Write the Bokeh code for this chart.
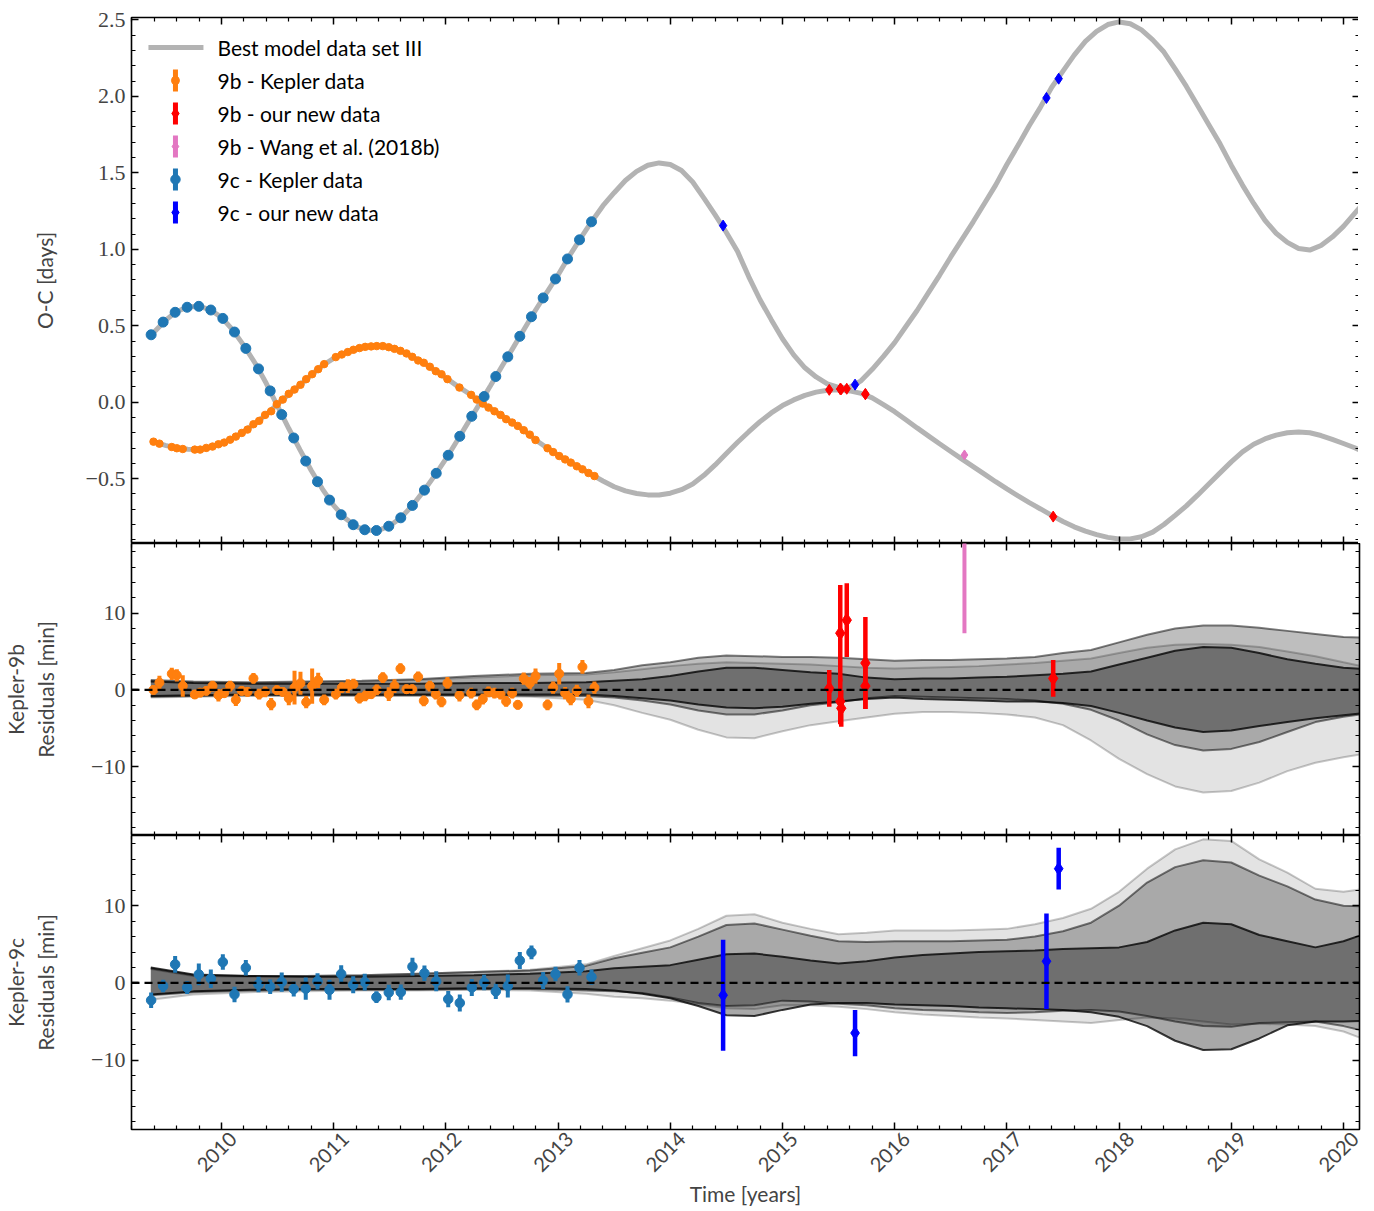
import math
import numpy as np
from bokeh.plotting import figure
from bokeh.layouts import column
from bokeh.models import Range1d, LinearAxis, FixedTicker, Span, Label, CustomJSTickFormatter
from bokeh.embed import file_html
from bokeh.resources import INLINE

SANS = "Lato"
SERIF = "Liberation Serif"

# ---------------- data ----------------
MODEL_T = [2009.37, 2009.4, 2009.5, 2009.6, 2009.7, 2009.8, 2009.9,
           2010.0, 2010.1, 2010.2, 2010.3, 2010.4, 2010.5, 2010.6, 2010.7, 2010.8, 2010.9,
           2011.0, 2011.1, 2011.2, 2011.3, 2011.4, 2011.5, 2011.6, 2011.7, 2011.8, 2011.9,
           2012.0, 2012.1, 2012.2, 2012.3, 2012.4, 2012.5, 2012.6, 2012.7, 2012.8, 2012.9,
           2013.0, 2013.1, 2013.2, 2013.3, 2013.4, 2013.5, 2013.6, 2013.7, 2013.8, 2013.9,
           2014.0, 2014.1, 2014.2, 2014.3, 2014.4, 2014.5, 2014.6, 2014.7, 2014.8, 2014.9,
           2015.0, 2015.1, 2015.2, 2015.3, 2015.4, 2015.5, 2015.6, 2015.7, 2015.8, 2015.9,
           2016.0, 2016.1, 2016.2, 2016.3, 2016.4, 2016.5, 2016.6, 2016.7, 2016.8, 2016.9,
           2017.0, 2017.1, 2017.2, 2017.3, 2017.4, 2017.5, 2017.6, 2017.7, 2017.8, 2017.9,
           2018.0, 2018.1, 2018.2, 2018.3, 2018.4, 2018.5, 2018.6, 2018.7, 2018.8, 2018.9,
           2019.0, 2019.1, 2019.2, 2019.3, 2019.4, 2019.5, 2019.6, 2019.7, 2019.8, 2019.9,
           2020.0, 2020.1, 2020.2]
MODEL_9B = [-0.252, -0.26, -0.282, -0.300, -0.308, -0.309, -0.295,
            -0.270, -0.236, -0.192, -0.138, -0.080, -0.012, 0.052, 0.112, 0.178, 0.240,
            0.287, 0.322, 0.348, 0.363, 0.367, 0.359, 0.335, 0.297, 0.259, 0.209,
            0.159, 0.107, 0.060, 0.005, -0.043, -0.089, -0.137, -0.186, -0.247, -0.298,
            -0.347, -0.389, -0.431, -0.474, -0.515, -0.553, -0.580, -0.597, -0.606, -0.607,
            -0.595, -0.572, -0.535, -0.478, -0.410, -0.335, -0.262, -0.193, -0.127, -0.070,
            -0.022, 0.015, 0.045, 0.066, 0.078, 0.082, 0.074, 0.058, 0.028, -0.016,
            -0.062, -0.115, -0.168, -0.220, -0.272, -0.322, -0.372, -0.421, -0.470, -0.520,
            -0.567, -0.613, -0.657, -0.698, -0.740, -0.780, -0.815, -0.843, -0.866, -0.884,
            -0.894, -0.894, -0.880, -0.850, -0.800, -0.740, -0.678, -0.608, -0.535, -0.462,
            -0.390, -0.325, -0.275, -0.240, -0.215, -0.200, -0.195, -0.200, -0.218, -0.243,
            -0.270, -0.298, -0.330]
MODEL_9C = [0.44, 0.46, 0.535, 0.593, 0.622, 0.627, 0.605,
            0.555, 0.473, 0.370, 0.255, 0.122, -0.025, -0.172, -0.312, -0.447, -0.568,
            -0.675, -0.757, -0.813, -0.838, -0.838, -0.808, -0.755, -0.677, -0.583, -0.480,
            -0.371, -0.252, -0.130, -0.011, 0.111, 0.235, 0.357, 0.481, 0.603, 0.719,
            0.832, 0.956, 1.072, 1.182, 1.285, 1.37, 1.45, 1.51, 1.55, 1.565,
            1.555, 1.515, 1.44, 1.335, 1.225, 1.11, 0.985, 0.82, 0.67, 0.54,
            0.415, 0.31, 0.225, 0.165, 0.12, 0.097, 0.098, 0.14, 0.215, 0.30,
            0.39, 0.495, 0.60, 0.715, 0.83, 0.95, 1.065, 1.18, 1.30, 1.42,
            1.555, 1.68, 1.81, 1.93, 2.06, 2.165, 2.27, 2.36, 2.425, 2.47,
            2.487, 2.475, 2.435, 2.37, 2.29, 2.18, 2.065, 1.94, 1.815, 1.69,
            1.55, 1.42, 1.30, 1.19, 1.105, 1.045, 1.005, 0.995, 1.025, 1.08,
            1.15, 1.235, 1.32]

# Kepler-9b, Kepler data
T_9B_KEP = [2009.394, 2009.447, 2009.557, 2009.602, 2009.655, 2009.762, 2009.810, 2009.864, 2009.920, 2009.973,
            2010.024, 2010.077, 2010.128, 2010.181, 2010.232, 2010.285, 2010.336, 2010.389, 2010.443, 2010.493,
            2010.546, 2010.600, 2010.651, 2010.704, 2010.755, 2010.808, 2010.862, 2010.915,
            2011.019, 2011.072, 2011.126, 2011.176, 2011.230, 2011.281, 2011.334, 2011.384, 2011.438, 2011.491,
            2011.542, 2011.595, 2011.649, 2011.700, 2011.753, 2011.803, 2011.857, 2011.910, 2011.961,
            2012.014, 2012.121, 2012.225, 2012.275, 2012.329, 2012.380, 2012.433, 2012.487, 2012.537, 2012.591,
            2012.641, 2012.694, 2012.748, 2012.799, 2012.906, 2012.956,
            2013.010, 2013.063, 2013.113, 2013.167, 2013.217, 2013.271, 2013.324]
OC_9B_KEP = [-0.258, -0.271, -0.293, -0.301, -0.306, -0.310, -0.310, -0.299, -0.290, -0.275,
             -0.264, -0.245, -0.225, -0.201, -0.179, -0.144, -0.122, -0.083, -0.059, -0.013,
             0.017, 0.055, 0.083, 0.114, 0.151, 0.183, 0.216, 0.249,
             0.295, 0.312, 0.328, 0.343, 0.354, 0.362, 0.365, 0.367, 0.367, 0.360,
             0.349, 0.336, 0.319, 0.297, 0.273, 0.258, 0.232, 0.203, 0.183,
             0.151, 0.096, 0.048, 0.017, -0.009, -0.035, -0.059, -0.083, -0.111, -0.133,
             -0.155, -0.183, -0.212, -0.247, -0.301, -0.326,
             -0.352, -0.374, -0.395, -0.419, -0.439, -0.463, -0.483]
RES_9B_KEP = [0.0, 0.95, 2.1, 1.9, 0.5, -0.6, -0.35, -0.13, 0.5, -0.7,
              -0.43, 0.5, -1.3, -0.13, -0.26, 1.5, -0.56, -0.26, -1.86, -0.04,
              -0.26, -1.1, 0.3, 0.87, -1.6, 0.5, 1.25, -1.3,
              -0.56, 0.3, 0.5, 0.74, -1.08, -0.78, -0.56, 0.0, 1.6, -0.56,
              0.5, 2.77, 0.09, 0.09, 1.7, -1.43, 0.5, -0.56, -1.56,
              0.87, -0.7, -0.43, -1.95, -1.2, -0.26, -0.43, -0.56, -1.5, -0.43,
              -1.95, 1.47, 0.87, 1.8, -1.95, 0.3,
              2.1, -0.43, -1.2, -0.13, 3.0, -1.5, 0.3]
ERR_9B_KEP = [0.6, 0.9, 0.8, 0.8, 1.4, 0.6, 0.6, 0.6, 0.7, 0.8,
              0.6, 0.7, 0.8, 0.6, 0.6, 0.7, 0.7, 0.7, 0.8, 0.6,
              0.6, 0.9, 2.2, 1.5, 0.8, 2.3, 1.0, 0.7,
              0.7, 0.7, 0.9, 0.7, 0.7, 0.7, 0.6, 0.7, 0.7, 0.9,
              0.9, 0.7, 0.6, 0.6, 0.7, 0.7, 0.7, 0.7, 0.7,
              0.8, 0.8, 0.7, 0.7, 0.7, 0.7, 0.7, 0.7, 0.7, 0.7,
              0.6, 0.8, 0.8, 1.0, 0.7, 0.8,
              1.4, 0.8, 0.8, 0.8, 0.9, 0.9, 0.8]

# Kepler-9b, our new data
T_9B_NEW = [2015.417, 2015.515, 2015.515, 2015.524, 2015.573, 2015.739, 2015.739, 2017.413]
OC_9B_NEW = [0.081, 0.088, 0.085, 0.085, 0.088, 0.054, 0.052, -0.748]
RES_9B_NEW = [0.2, 7.4, -1.5, -2.4, 9.1, 3.5, 0.5, 1.5]
ERR_9B_NEW = [2.4, 6.3, 3.0, 2.4, 4.8, 6.0, 3.0, 2.4]

# Kepler-9b, Wang et al. (2018b)
T_9B_WANG = [2016.622]
OC_9B_WANG = [-0.345]
RES_9B_WANG = [24.0]
ERR_9B_WANG = [16.6]

# Kepler-9c, Kepler data
T_9C_KEP = [2009.373, 2009.480, 2009.587, 2009.694, 2009.798, 2009.905, 2010.012, 2010.116, 2010.217, 2010.330,
            2010.434, 2010.537, 2010.644, 2010.751, 2010.856, 2010.963, 2011.067, 2011.174, 2011.277, 2011.381,
            2011.491, 2011.598, 2011.702, 2011.809, 2011.914, 2012.021, 2012.124, 2012.231, 2012.341, 2012.445,
            2012.552, 2012.659, 2012.763, 2012.867, 2012.977, 2013.084, 2013.191, 2013.298]
OC_9C_KEP = [0.441, 0.524, 0.588, 0.621, 0.627, 0.603, 0.548, 0.459, 0.352, 0.218,
             0.074, -0.081, -0.234, -0.385, -0.520, -0.640, -0.736, -0.801, -0.834, -0.839,
             -0.811, -0.756, -0.675, -0.575, -0.465, -0.347, -0.223, -0.092, 0.037, 0.168,
             0.297, 0.431, 0.559, 0.682, 0.806, 0.937, 1.062, 1.180]
RES_9C_KEP = [-2.25, -0.4, 2.4, -0.6, 1.1, 0.55, 2.7, -1.5, 1.95, -0.2,
              -0.5, 0.1, -0.8, -0.75, 0.2, -0.9, 1.15, -0.25, 0.1, -1.85,
              -1.25, -1.2, 2.1, 1.25, 0.2, -2.1, -2.6, -0.6, 0.05, -1.1,
              -0.4, 2.9, 3.95, 0.3, 1.15, -1.5, 1.95, 0.75]
ERR_9C_KEP = [1.0, 0.8, 1.1, 0.85, 1.4, 1.2, 1.0, 1.0, 1.0, 1.0,
              0.95, 1.25, 0.95, 1.45, 1.05, 1.3, 1.15, 1.1, 1.1, 0.75,
              1.0, 1.0, 1.15, 1.0, 1.3, 1.05, 1.1, 1.1, 1.0, 1.0,
              1.5, 1.1, 0.9, 1.1, 0.95, 1.05, 1.0, 1.0]

# Kepler-9c, our new data
T_9C_NEW = [2014.471, 2015.647, 2017.353, 2017.462]
OC_9C_NEW = [1.155, 0.115, 1.99, 2.116]
RES_9C_NEW = [-1.6, -6.5, 2.8, 14.8]
ERR_9C_NEW = [7.2, 3.0, 6.2, 2.7]

# Predicted residual envelopes (dark / medium / light bands)
BAND_T = [2009.37, 2009.75, 2010.25, 2010.75, 2011.25, 2011.75, 2012.25, 2012.75, 2013.25,
          2013.5, 2013.75, 2014.0, 2014.25, 2014.5, 2014.75, 2015.0, 2015.25, 2015.5, 2015.75,
          2016.0, 2016.25, 2016.5, 2016.75, 2017.0, 2017.25, 2017.5, 2017.75, 2018.0, 2018.25,
          2018.5, 2018.75, 2019.0, 2019.25, 2019.5, 2019.75, 2020.0, 2020.2]
B_DARK_LO = [-0.8, -0.7, -0.6, -0.6, -0.6, -0.6, -0.6, -0.6, -0.6,
             -0.8, -1.1, -1.4, -1.9, -2.3, -2.4, -2.2, -1.8, -1.5, -1.2, -1.0, -1.2, -1.3, -1.4, -1.5,
             -1.5, -1.7, -2.1, -3.0, -4.0, -4.9, -5.5, -5.3, -4.7, -4.2, -3.7, -3.3, -3.0]
B_DARK_HI = [1.1, 0.9, 0.8, 0.8, 0.8, 0.8, 0.9, 0.9, 1.0,
             1.2, 1.4, 1.8, 2.4, 2.9, 2.9, 2.6, 2.3, 2.1, 1.6, 1.4, 1.5, 1.5, 1.6, 1.7,
             1.9, 2.1, 2.4, 3.3, 4.2, 5.1, 5.6, 5.5, 4.8, 4.0, 3.4, 2.9, 2.7]
B_MID_LO = [-0.9, -0.8, -0.7, -0.7, -0.7, -0.7, -0.7, -0.75, -0.8,
            -1.0, -1.4, -1.9, -2.7, -3.2, -3.2, -2.7, -2.0, -1.6, -1.1, -0.8, -0.9, -1.0, -1.1, -1.2,
            -1.4, -1.8, -2.6, -4.0, -5.8, -7.2, -7.9, -7.7, -6.8, -5.5, -4.2, -3.5, -3.1]
B_MID_HI = [1.3, 1.1, 1.0, 1.1, 1.2, 1.4, 1.8, 2.1, 2.2,
            2.6, 3.2, 3.6, 4.2, 4.5, 4.4, 4.3, 4.3, 4.2, 4.0, 3.8, 3.9, 3.9, 4.0, 4.1,
            4.3, 4.8, 5.2, 6.2, 7.2, 8.0, 8.4, 8.4, 8.1, 7.7, 7.3, 6.9, 6.8]
B_LIGHT_LO = [-1.0, -0.9, -0.8, -0.8, -0.8, -0.8, -0.8, -0.9, -1.3,
              -2.0, -3.0, -3.9, -5.2, -6.2, -6.3, -5.4, -4.6, -4.1, -3.6, -3.1, -2.9, -2.9, -3.0, -3.2,
              -3.6, -4.6, -6.6, -9.0, -11.0, -12.6, -13.4, -13.2, -12.1, -10.6, -9.5, -8.8, -8.3]
B_LIGHT_HI = [1.2, 1.0, 0.9, 1.0, 1.1, 1.3, 1.6, 1.9, 2.0,
              2.3, 2.7, 3.1, 3.4, 3.6, 3.5, 3.4, 3.3, 3.1, 2.9, 2.8, 2.9, 3.0, 3.1, 3.3,
              3.5, 3.8, 4.1, 4.8, 5.5, 5.9, 6.0, 5.9, 5.6, 5.0, 4.4, 3.6, 3.0]
C_DARK_LO = [-1.5, -1.1, -0.9, -0.8, -0.8, -0.8, -0.7, -0.7, -0.8,
             -1.0, -1.4, -2.0, -3.0, -4.2, -4.3, -3.5, -2.8, -2.6, -2.6, -2.8, -2.9, -3.0, -3.2, -3.3,
             -3.4, -3.5, -3.8, -4.4, -5.6, -7.5, -8.7, -8.6, -7.2, -5.5, -5.0, -5.0, -4.9]
C_DARK_HI = [2.0, 1.1, 0.9, 0.8, 0.8, 0.9, 1.0, 1.2, 1.5,
             1.9, 2.1, 2.3, 3.0, 3.7, 3.8, 3.4, 2.9, 2.5, 2.8, 3.3, 3.6, 3.8, 4.0, 4.1,
             4.2, 4.4, 4.5, 4.6, 5.3, 6.8, 7.8, 7.6, 6.2, 5.4, 4.6, 5.4, 6.4]
C_MID_LO = [-1.6, -1.2, -1.0, -0.9, -0.9, -0.9, -0.8, -0.8, -1.0,
            -1.1, -1.3, -1.9, -2.6, -3.0, -2.9, -2.3, -2.4, -2.7, -2.9, -3.3, -3.5, -3.6, -3.8, -3.9,
            -3.8, -3.6, -3.5, -3.7, -4.3, -5.0, -5.6, -5.7, -5.2, -5.1, -5.0, -5.6, -6.3]
C_MID_HI = [1.9, 1.0, 0.9, 0.9, 1.0, 1.2, 1.4, 1.6, 2.2,
            3.2, 3.9, 4.6, 6.0, 7.5, 7.7, 6.9, 6.1, 5.4, 5.3, 5.4, 5.4, 5.4, 5.5, 5.6,
            6.0, 6.7, 7.8, 10.0, 13.0, 15.0, 15.9, 15.6, 13.9, 12.5, 10.8, 10.0, 9.9]
C_LIGHT_LO = [-2.2, -1.5, -1.2, -1.1, -1.0, -1.0, -0.9, -1.0, -1.4,
              -1.8, -2.0, -2.3, -2.8, -3.3, -3.4, -2.9, -2.9, -3.1, -3.4, -3.8, -4.1, -4.3, -4.5, -4.6,
              -4.8, -5.0, -5.2, -4.8, -4.5, -4.6, -5.0, -5.4, -5.3, -5.4, -5.6, -6.3, -7.4]
C_LIGHT_HI = [1.8, 0.9, 0.8, 0.9, 1.0, 1.2, 1.4, 1.7, 2.4,
              3.5, 4.5, 5.5, 7.0, 8.7, 8.9, 7.8, 7.0, 6.3, 6.5, 6.8, 6.8, 6.8, 6.9, 7.0,
              7.6, 8.4, 9.6, 11.8, 14.8, 17.3, 18.6, 18.4, 16.0, 14.3, 12.2, 11.8, 12.2]

X_TICKS = [2010, 2011, 2012, 2013, 2014, 2015, 2016, 2017, 2018, 2019, 2020]
OC_TICKS = [-0.5, 0.0, 0.5, 1.0, 1.5, 2.0, 2.5]
RES_TICKS = [-10, 0, 10]

LEGEND_LABELS = ["Best model data set III", "9b - Kepler data", "9b - our new data",
                 "9b - Wang et al. (2018b)", "9c - Kepler data", "9c - our new data"]

# ---------------- styling / layout ----------------
X_RANGE = (2009.198, 2020.143)
OC_RANGE = (-0.924, 2.516)
RES_RANGE = (-19.0, 19.1)
FRAME_W = 1228
LEFT_B = 125
RIGHT_B = 5
TOP_B = 17
LABEL_SHIFT = 0.105   # shifts rotated year labels so they sit centred under their ticks
MODEL_GRAY = "#b3b3b3"
C_ORANGE = "#ff7f0e"
C_STEEL = "#1f77b4"
C_RED = "#ff0000"
C_BLUE = "#0000ff"
C_PINK = "#e377c2"

X_MINOR = [round(2009.2 + 0.2 * i, 1) for i in range(56) if abs((2009.2 + 0.2 * i) - round(2009.2 + 0.2 * i)) > 1e-6]
OC_MINOR = [round(-0.9 + 0.1 * i, 1) for i in range(35)]
RES_MINOR = [-18 + 2 * i for i in range(19)]


def tick_style(ax):
    ax.major_tick_in = 7
    ax.major_tick_out = 0
    ax.minor_tick_in = 4
    ax.minor_tick_out = 0
    ax.major_tick_line_width = 1.5
    ax.minor_tick_line_width = 1.2
    ax.major_tick_line_color = "black"
    ax.minor_tick_line_color = "black"
    ax.axis_line_color = None


def hide_labels(ax):
    ax.formatter = CustomJSTickFormatter(code="return '';")
    ax.major_label_text_font_size = "0px"
    ax.major_label_standoff = 0


def new_fig(frame_h, y_range, y_ticks, y_minor, y_fmt, y_label, y_label_standoff,
            top_border=0, show_x=False):
    p = figure(frame_width=FRAME_W, frame_height=frame_h,
               x_range=Range1d(*X_RANGE), y_range=Range1d(*y_range),
               x_axis_location=None, y_axis_location=None,
               output_backend="svg", toolbar_location=None,
               min_border_left=LEFT_B, min_border_right=RIGHT_B,
               min_border_top=top_border, min_border_bottom=0)
    p.grid.visible = False
    p.outline_line_color = "black"
    p.outline_line_width = 1.6
    p.background_fill_color = "white"
    p.border_fill_color = "white"

    xt = FixedTicker(ticks=X_TICKS, minor_ticks=X_MINOR)
    yt = FixedTicker(ticks=y_ticks, minor_ticks=y_minor)
    for side in ("below", "above"):
        ax = LinearAxis(ticker=xt)
        tick_style(ax)
        hide_labels(ax)
        p.add_layout(ax, side)
    if show_x:
        # label-only axis, placed just under the tick axis
        lab = LinearAxis(ticker=FixedTicker(ticks=[t + LABEL_SHIFT for t in X_TICKS], minor_ticks=[]))
        lab.major_tick_in = 0
        lab.major_tick_out = 0
        lab.minor_tick_in = 0
        lab.minor_tick_out = 0
        lab.major_tick_line_color = None
        lab.minor_tick_line_color = None
        lab.axis_line_color = None
        lab.formatter = CustomJSTickFormatter(code="return Math.round(tick).toFixed(0);")
        lab.major_label_orientation = math.pi / 4
        lab.major_label_text_font = SANS
        lab.major_label_text_font_size = "20px"
        lab.major_label_standoff = 6
        lab.axis_label = "Time [years]"
        lab.axis_label_text_font = SANS
        lab.axis_label_text_font_size = "21px"
        lab.axis_label_text_font_style = "normal"
        lab.axis_label_standoff = 0
        p.add_layout(lab, "below")
    for side in ("left", "right"):
        ax = LinearAxis(ticker=yt)
        tick_style(ax)
        if side == "left":
            ax.formatter = CustomJSTickFormatter(code=y_fmt)
            ax.major_label_text_font = SERIF
            ax.major_label_text_font_size = "22px"
            ax.major_label_standoff = 6
            ax.axis_label = y_label
            ax.axis_label_text_font = SANS
            ax.axis_label_text_font_size = "21px"
            ax.axis_label_text_font_style = "normal"
            ax.axis_label_standoff = y_label_standoff
        else:
            hide_labels(ax)
        p.add_layout(ax, side)
    return p


FMT_OC = "return (tick < -1e-9 ? '\\u2212' : '') + Math.abs(tick).toFixed(1);"
FMT_RES = "return (tick < 0 ? '\\u2212' : '') + Math.abs(tick).toFixed(0);"


def errbars(p, t, y, e, color, width, scale=1.0):
    t = np.asarray(t, float)
    y = np.asarray(y, float)
    e = np.asarray(e, float) * scale
    p.segment(x0=t, y0=y - e, x1=t, y1=y + e, line_color=color, line_width=width)


# ---------------- top panel: O-C ----------------
p1 = new_fig(526, OC_RANGE, OC_TICKS, OC_MINOR, FMT_OC, "O-C [days]", 26, top_border=TOP_B)
p1.line(MODEL_T, MODEL_9C, line_color=MODEL_GRAY, line_width=5)
p1.line(MODEL_T, MODEL_9B, line_color=MODEL_GRAY, line_width=5)
DAY = 1.0 / 1440.0
errbars(p1, T_9B_KEP, OC_9B_KEP, ERR_9B_KEP, C_ORANGE, 2, DAY)
p1.scatter(T_9B_KEP, OC_9B_KEP, marker="circle", size=7.5, color=C_ORANGE)
errbars(p1, T_9C_KEP, OC_9C_KEP, ERR_9C_KEP, C_STEEL, 2, DAY)
p1.scatter(T_9C_KEP, OC_9C_KEP, marker="circle", size=10, color=C_STEEL)
errbars(p1, T_9B_WANG, OC_9B_WANG, ERR_9B_WANG, C_PINK, 2, DAY)
p1.scatter(T_9B_WANG, OC_9B_WANG, marker="diamond", size=10, color=C_PINK)
errbars(p1, T_9B_NEW, OC_9B_NEW, ERR_9B_NEW, C_RED, 2, DAY)
p1.scatter(T_9B_NEW, OC_9B_NEW, marker="diamond", size=11, color=C_RED)
errbars(p1, T_9C_NEW, OC_9C_NEW, ERR_9C_NEW, C_BLUE, 2, DAY)
p1.scatter(T_9C_NEW, OC_9C_NEW, marker="diamond", size=11, color=C_BLUE)


# legend (drawn manually, positions as fractions of the frame)
def fx(f):
    return X_RANGE[0] + f * (X_RANGE[1] - X_RANGE[0])


def fy(f):
    return OC_RANGE[1] - f * (OC_RANGE[1] - OC_RANGE[0])


PX_Y = (OC_RANGE[1] - OC_RANGE[0]) / 526.0
p1.segment(x0=[fx(0.0138)], y0=[fy(0.057)], x1=[fx(0.0586)], y1=[fy(0.057)],
           line_color=MODEL_GRAY, line_width=5)
p1.add_layout(Label(x=fx(0.070), y=fy(0.057), text=LEGEND_LABELS[0], text_font=SANS,
                    text_font_size="21px", text_baseline="middle", text_color="black"))
leg_style = [(C_ORANGE, "circle", 8), (C_RED, "diamond", 11), (C_PINK, "diamond", 10),
             (C_STEEL, "circle", 9.5), (C_BLUE, "diamond", 11)]
for i, (col, mk, sz) in enumerate(leg_style):
    yy = fy(0.1198 + 0.0627 * i)
    xx = fx(0.0358)
    p1.segment(x0=[xx], y0=[yy - 11 * PX_Y], x1=[xx], y1=[yy + 11 * PX_Y], line_color=col, line_width=5)
    p1.scatter([xx], [yy], marker=mk, size=sz, color=col)
    p1.add_layout(Label(x=fx(0.070), y=yy, text=LEGEND_LABELS[i + 1], text_font=SANS,
                        text_font_size="21px", text_baseline="middle", text_color="black"))


def bands(p, lo_hi):
    specs = [(0.11, 0.22), (0.255, 0.5), (0.34, 0.77)]
    for (lo, hi), (fa, la) in zip(lo_hi, specs):
        p.varea(x=BAND_T, y1=lo, y2=hi, fill_color="black", fill_alpha=fa)
    for (lo, hi), (fa, la) in zip(lo_hi, specs):
        p.line(BAND_T, lo, line_color="black", line_alpha=la, line_width=2)
        p.line(BAND_T, hi, line_color="black", line_alpha=la, line_width=2)
    p.add_layout(Span(location=0, dimension="width", line_color="black",
                      line_dash="8 5", line_width=2.2))


# ---------------- middle panel: 9b residuals ----------------
p2 = new_fig(292, RES_RANGE, RES_TICKS, RES_MINOR, FMT_RES, "Kepler-9b\nResiduals [min]", 30)
bands(p2, [(B_LIGHT_LO, B_LIGHT_HI), (B_MID_LO, B_MID_HI), (B_DARK_LO, B_DARK_HI)])
errbars(p2, T_9B_KEP, RES_9B_KEP, ERR_9B_KEP, C_ORANGE, 4)
p2.scatter(T_9B_KEP, RES_9B_KEP, marker="circle", size=9, color=C_ORANGE)
errbars(p2, T_9B_WANG, RES_9B_WANG, ERR_9B_WANG, C_PINK, 4)
p2.scatter(T_9B_WANG, RES_9B_WANG, marker="diamond", size=13, color=C_PINK)
errbars(p2, T_9B_NEW, RES_9B_NEW, ERR_9B_NEW, C_RED, 4.5)
p2.scatter(T_9B_NEW, RES_9B_NEW, marker="diamond", size=14, color=C_RED)

# ---------------- bottom panel: 9c residuals ----------------
p3 = new_fig(294, RES_RANGE, RES_TICKS, RES_MINOR, FMT_RES, "Kepler-9c\nResiduals [min]", 30, show_x=True)
bands(p3, [(C_LIGHT_LO, C_LIGHT_HI), (C_MID_LO, C_MID_HI), (C_DARK_LO, C_DARK_HI)])
errbars(p3, T_9C_KEP, RES_9C_KEP, ERR_9C_KEP, C_STEEL, 4)
p3.scatter(T_9C_KEP, RES_9C_KEP, marker="circle", size=9.5, color=C_STEEL)
errbars(p3, T_9C_NEW, RES_9C_NEW, ERR_9C_NEW, C_BLUE, 4.5)
p3.scatter(T_9C_NEW, RES_9C_NEW, marker="diamond", size=13, color=C_BLUE)

layout = column(p1, p2, p3, spacing=0)
open("out.html", "w", encoding="utf-8").write(file_html(layout, INLINE))
